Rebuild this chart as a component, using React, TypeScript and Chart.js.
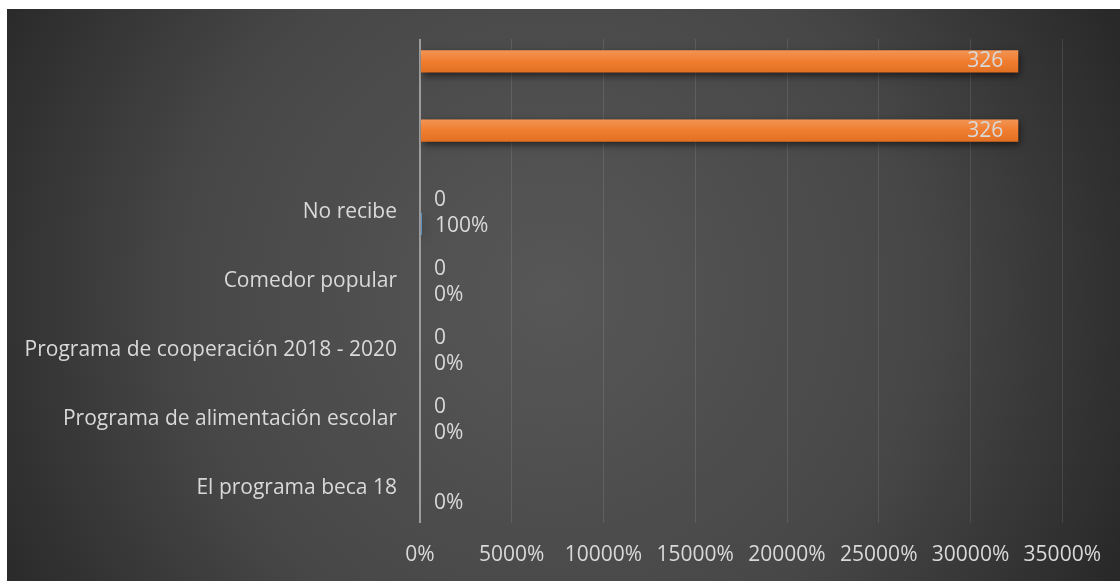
import React, { useEffect, useRef } from "react";
import { Chart, registerables } from "chart.js";

Chart.register(...registerables);

const categories = [
  "",
  "",
  "No recibe",
  "Comedor popular",
  "Programa de cooperación 2018 - 2020",
  "Programa de alimentación escolar",
  "El programa beca 18",
];
const countValues: (number | null)[] = [326, 326, 0, 0, 0, 0, null];
const percentValues: (number | null)[] = [null, null, 1, 0, 0, 0, 0];
const axisMax = 350;
const axisStep = 50;

const FONT = "'Open Sans', sans-serif";
const TEXT = "#d9d9d9";
const FS = 21;

const bgPlugin = {
  id: "bgPlugin",
  beforeDraw(chart: any) {
    const { ctx, width, height } = chart;
    ctx.save();
    const g = ctx.createRadialGradient(width * 0.49, height * 0.5, 0, width * 0.49, height * 0.5, width * 0.6);
    g.addColorStop(0, "#575757");
    g.addColorStop(0.55, "#474747");
    g.addColorStop(1, "#242424");
    ctx.fillStyle = g;
    ctx.fillRect(0, 0, width, height);
    ctx.restore();
  },
  beforeDatasetsDraw(chart: any) {
    const ctx = chart.ctx;
    ctx.save();
    ctx.shadowColor = "rgba(0,0,0,0.55)";
    ctx.shadowBlur = 7;
    ctx.shadowOffsetX = 2;
    ctx.shadowOffsetY = 3;
  },
  afterDatasetsDraw(chart: any) {
    const ctx = chart.ctx;
    ctx.restore();
    ctx.save();
    const meta0 = chart.getDatasetMeta(0);
    meta0.data.forEach((bar: any, i: number) => {
      const v = countValues[i];
      if (v === null || v === 0) return;
      const left = Math.min(bar.x, bar.base);
      const w = Math.abs(bar.x - bar.base);
      const top = bar.y - bar.height / 2;
      const g = ctx.createLinearGradient(0, top, 0, top + bar.height);
      g.addColorStop(0, "rgba(255,255,255,0.22)");
      g.addColorStop(0.5, "rgba(255,255,255,0.05)");
      g.addColorStop(1, "rgba(0,0,0,0.06)");
      ctx.fillStyle = g;
      ctx.fillRect(left, top, w, bar.height);
    });
    ctx.font = `${FS}px ${FONT}`;
    ctx.fillStyle = TEXT;
    ctx.textBaseline = "middle";
    meta0.data.forEach((bar: any, i: number) => {
      const v = countValues[i];
      if (v === null) return;
      if (v > 0) {
        ctx.textAlign = "right";
        ctx.fillText(String(v), bar.x - 15, bar.y);
      } else {
        ctx.textAlign = "left";
        ctx.fillText(String(v), bar.base + 14, bar.y);
      }
    });
    const meta1 = chart.getDatasetMeta(1);
    meta1.data.forEach((bar: any, i: number) => {
      const v = percentValues[i];
      if (v === null) return;
      ctx.textAlign = "left";
      ctx.fillText(`${Math.round(v * 100)}%`, bar.base + 14, bar.y + 2);
    });
    ctx.restore();
  },
};

export default function App() {
  const ref = useRef<HTMLCanvasElement>(null);
  useEffect(() => {
    if (!ref.current) return;
    const chart = new Chart(ref.current, {
      type: "bar",
      data: {
        labels: categories,
        datasets: [
          {
            label: "Cantidad",
            data: countValues,
            backgroundColor: "#ef7624",
            borderWidth: 0,
            categoryPercentage: 0.7,
            barPercentage: 0.92,
          },
          {
            label: "Porcentaje",
            data: percentValues,
            backgroundColor: "#5b9bd5",
            borderWidth: 0,
            categoryPercentage: 0.7,
            barPercentage: 0.92,
          },
        ],
      },
      options: {
        indexAxis: "y",
        animation: false,
        responsive: true,
        maintainAspectRatio: false,
        layout: { padding: { left: 0, right: 56, top: 30, bottom: 0 } },
        plugins: {
          legend: { display: false },
          tooltip: { enabled: false },
        },
        scales: {
          x: {
            min: 0,
            max: axisMax,
            afterFit: (s: any) => {
              s.height = 58;
              s.paddingLeft = 0;
            },
            ticks: {
              stepSize: axisStep,
              padding: 19,
              maxRotation: 0,
              color: TEXT,
              font: { family: FONT, size: FS },
              callback: (v: any) => `${Math.round(Number(v) * 100)}%`,
            },
            grid: {
              drawTicks: false,
              color: (c: any) => (c.index === 0 ? "#9c9c9c" : "rgba(255,255,255,0.1)"),
              lineWidth: (c: any) => (c.index === 0 ? 2 : 1),
            },
            border: { display: false },
          },
          y: {
            afterFit: (s: any) => {
              s.width = 413;
              s.paddingTop = 0;
              s.paddingBottom = 0;
            },
            ticks: {
              padding: 23,
              color: TEXT,
              font: { family: FONT, size: FS },
            },
            grid: { display: false, drawTicks: false },
            border: { display: false },
          },
        },
      },
      plugins: [bgPlugin],
    });
    return () => chart.destroy();
  }, []);
  return (
    <div style={{ position: "absolute", left: 7, top: 9, width: 1113, height: 572 }}>
      <canvas ref={ref} />
    </div>
  );
}
